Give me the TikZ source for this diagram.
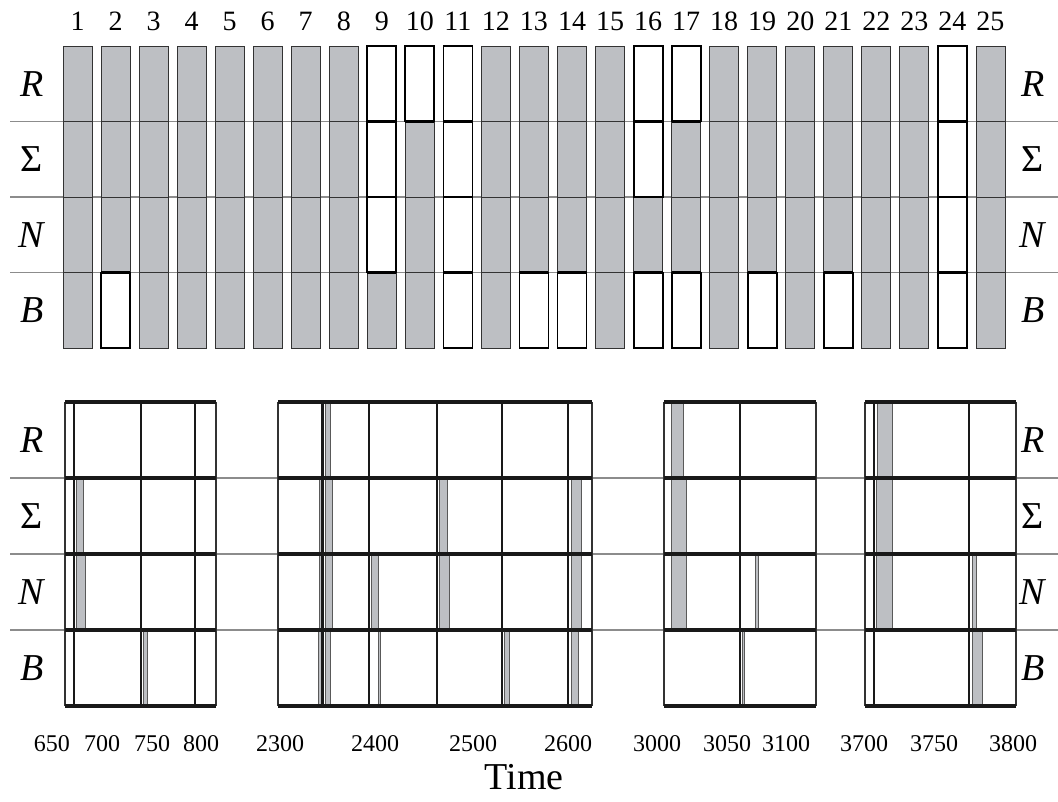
\documentclass[tikz,border=0pt]{standalone}
\usepackage{fontspec}
\setmainfont{Liberation Serif}
\definecolor{cellgrey}{RGB}{189,191,195}
\definecolor{rulegrey}{RGB}{140,140,140}

\begin{document}
\begin{tikzpicture}[x=1pt, y=-1pt,
  greycell/.style={fill=cellgrey, draw=black!80, line width=0.8pt},
  whitecell/.style={fill=white, draw=black, line width=1.8pt},
  bar/.style={fill=cellgrey, draw=black!65, line width=0.7pt},
  rowline/.style={draw=rulegrey, line width=1.1pt},
  event/.style={draw=black!90, line width=2.6pt},
  panelrule/.style={draw=black!90, line width=4pt},
  rowlabel/.style={font=\fontsize{38}{38}\selectfont},
  colnum/.style={font=\fontsize{28}{28}\selectfont},
  timelabel/.style={font=\fontsize{24}{24}\selectfont}]
  \useasboundingbox (0,0) rectangle (1058,801);

  % grey guide lines between the rows
  \foreach \y in {121.5,197,272.5,478,554,630}
    \draw[rowline] (10,\y) -- (1058,\y);

  % top: one column per window, grey = present
  \foreach \i in {1,...,25}{
    \pgfmathsetmacro\xa{63+(\i-1)*38.04}
    \node[colnum] (num\i) at (\xa+14.5,21) {\i};
    \foreach \j in {0,...,3}
      \draw[greycell] (\xa,46+\j*75.5) rectangle ++(29,75.5);
  }
  \foreach \i/\j in {2/3, 9/0, 9/1, 9/2, 10/0, 11/0, 11/1, 11/2, 11/3, 13/3, 14/3,
                     16/0, 16/1, 16/3, 17/0, 17/3, 19/3, 21/3, 24/0, 24/1, 24/2, 24/3}{
    \pgfmathsetmacro\xa{63+(\i-1)*38.04}
    \pgfmathsetmacro\ya{46+\j*75.5}
    \draw[whitecell] (\xa,\ya) rectangle ++(29,75.5);
    \draw[line width=2.8pt] (\xa,\ya) -- ++(29,0) (\xa,\ya+75.5) -- ++(29,0);
  }

  % row labels, both sides
  \foreach \t/\y/\k in {\textit{R}/84/tr, Σ/159/ts, \textit{N}/235/tn, \textit{B}/310/tb,
                        \textit{R}/440/br, Σ/516/bs, \textit{N}/592/bn, \textit{B}/668/bb}{
    \node[rowlabel] (L\k) at (32,\y) {\t};
    \node[rowlabel] (R\k) at (1033,\y) {\t};
  }

  % bottom: four time panels
  \foreach \xl/\xr/\w in {65/216/1.2, 278/592/1.2, 664/816/2, 865/1016/1.2}{
    \fill[white] (\xl,402) rectangle (\xr,706);
    \draw[black!80, line width=\w pt] (\xl,402) -- (\xl,706) (\xr,402) -- (\xr,706);
  }
  \foreach \xa/\xb/\j in {76/83/1, 76/85/2, 143/147/3,
      325/330/0, 319/321/1, 325/332/1, 439/447/1, 571/581/1,
      319/321/2, 325/332/2, 371/378/2, 439/449/2, 571/581/2,
      318/322/3, 325/330/3, 378/380/3, 504/509/3, 571/578/3,
      671/683/0, 671/686/1, 671/686/2, 755/758/2, 742/744/3,
      877/892/0, 876/892/1, 876/892/2, 972/976/2, 972/982/3}
    \draw[bar] (\xa,402+\j*76) rectangle (\xb,478+\j*76);
  \foreach \x in {74,141,195,322.5,369,437,502,568,740,874,969}
    \draw[event] (\x,402) -- (\x,706);
  \foreach \xl/\xr in {65/216, 278/592, 664/816, 865/1016}
    \foreach \y in {402,478,554,630,706}
      \draw[panelrule] (\xl,\y) -- (\xr,\y);

  % time axis
  \foreach \t/\x in {650/52, 700/102, 750/152, 800/201, 2300/280, 2400/375, 2500/473,
                     2600/568, 3000/657, 3050/727, 3100/786, 3700/864, 3750/934, 3800/1013}
    \node[timelabel] (t\t) at (\x,744) {\t};
  \node[font=\fontsize{38}{38}\selectfont] (time) at (524,777) {Time};
\end{tikzpicture}
\end{document}
